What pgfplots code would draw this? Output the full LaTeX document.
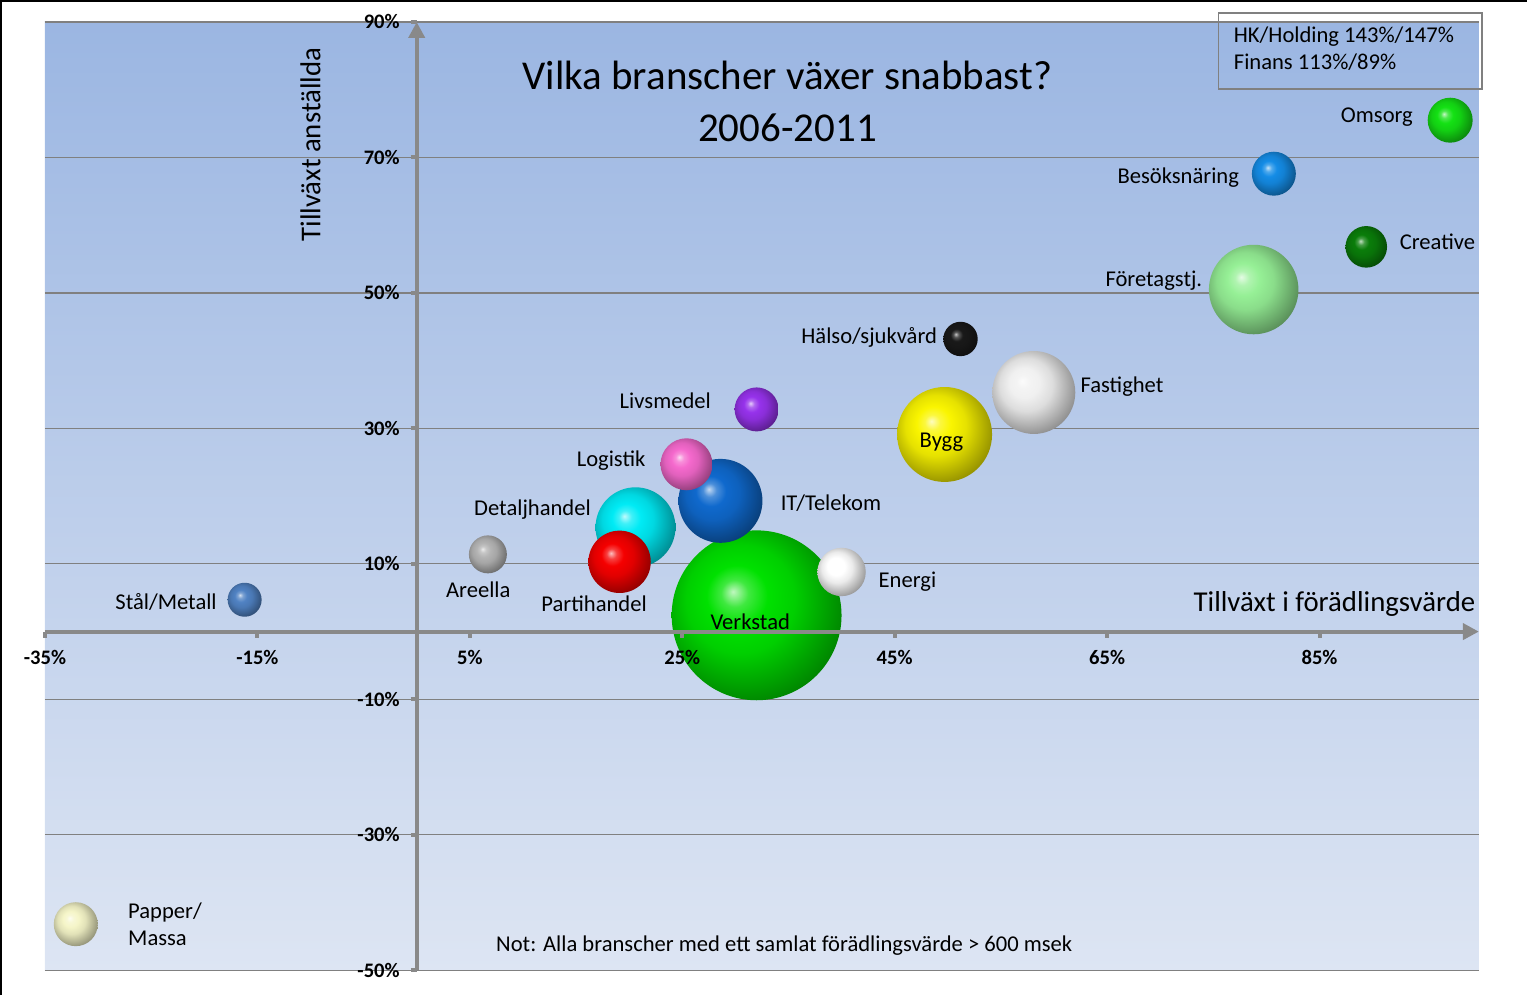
\documentclass[border=0pt]{standalone}
\usepackage{fontspec}
\setmainfont{Carlito}
\usepackage{pgfplots}
\pgfplotsset{compat=1.18}
\usetikzlibrary{arrows.meta}
\definecolor{bgtop}{RGB}{155,182,226}
\definecolor{bgbot}{RGB}{221,229,243}
\definecolor{axgray}{RGB}{137,137,137}
\definecolor{gridgray}{RGB}{128,128,128}
\definecolor{cOmsorg}{RGB}{20,225,20}
\definecolor{cBesok}{RGB}{20,140,230}
\definecolor{cCreative}{RGB}{10,125,10}
\definecolor{cForetag}{RGB}{150,240,150}
\definecolor{cHalso}{RGB}{25,25,25}
\definecolor{cFastighet}{RGB}{240,240,240}
\definecolor{cBygg}{RGB}{250,245,0}
\definecolor{cLivs}{RGB}{150,50,235}
\definecolor{cLogistik}{RGB}{245,105,205}
\definecolor{cIT}{RGB}{15,105,205}
\definecolor{cDetalj}{RGB}{0,235,245}
\definecolor{cAreella}{RGB}{180,180,180}
\definecolor{cParti}{RGB}{245,0,0}
\definecolor{cVerkstad}{RGB}{0,225,0}
\definecolor{cEnergi}{RGB}{255,255,255}
\definecolor{cStal}{RGB}{80,130,195}
\definecolor{cPapper}{RGB}{245,245,200}
\makeatletter
\pgfdeclareradialshading[tikz@ball]{myball}{\pgfqpoint{-7bp}{7bp}}{%
  color(0bp)=(tikz@ball!25!white);
  color(4bp)=(tikz@ball!75!white);
  color(9bp)=(tikz@ball);
  color(16bp)=(tikz@ball!92!black);
  color(24bp)=(tikz@ball!72!black);
  color(32bp)=(tikz@ball!52!black);
  color(50bp)=(tikz@ball!45!black)}
\makeatother
\pgfdeclareplotmark{myball}{\shade[shading=myball, draw=none] (0pt,0pt) circle (\pgfplotmarksize);}
\pgfplotsset{
  layers/mylayers/.define layer set={
    axis background, axis grid, pre main, main, axis ticks, axis lines,
    axis tick labels, axis descriptions, axis foreground
  }{/pgfplots/layers/standard},
}
\newcommand{\lbl}{\fontsize{11.3}{13.5}\selectfont}
\begin{document}
\begin{tikzpicture}
\begin{axis}[
  set layers=mylayers,
  scale only axis, width=717.5pt, height=474.5pt,
  at={(0pt,0pt)}, anchor=south west,
  xmin=-35, xmax=100, ymin=-50, ymax=90,
  axis lines=middle,
  axis line style={axgray, line width=2pt, -{Triangle[width=8pt,length=8pt]}},
  xtick={-35,-15,...,85}, ytick={-50,-30,...,90},
  tick style={axgray, line width=2pt},
  major tick length=3pt,
  tick align=outside,
  ymajorgrids, grid style={gridgray, line width=0.6pt},
  xticklabel={\pgfmathprintnumber[assume math mode=true]{\tick}\%},
  yticklabel={\pgfmathprintnumber[assume math mode=true]{\tick}\%},
  ticklabel style={font=\fontsize{10.3}{12}\selectfont\bfseries},
  xticklabel style={yshift=-3pt},
  yticklabel style={xshift=-2pt},
  axis background/.style={top color=bgtop, bottom color=bgbot, draw=none},
  clip=false,
  every axis plot/.append style={only marks, mark=myball},
]
% bubbles, largest first
\addplot[mark size=42.5pt, mark options={ball color=cVerkstad}] coordinates {(32.0,2.4)};
\addplot[mark size=23.75pt, mark options={ball color=cBygg}] coordinates {(49.7,29.1)};
\addplot[mark size=22.4pt, mark options={ball color=cForetag}] coordinates {(78.8,50.5)};
\addplot[mark size=21pt, mark options={ball color=cIT}] coordinates {(28.6,19.3)};
\addplot[mark size=20.75pt, mark options={ball color=cFastighet}] coordinates {(58.1,35.3)};
\addplot[mark size=20pt, mark options={ball color=cDetalj}] coordinates {(20.6,15.4)};
\addplot[mark size=15.6pt, mark options={ball color=cParti}] coordinates {(19.1,10.3)};
\addplot[mark size=13pt, mark options={ball color=cLogistik}] coordinates {(25.4,24.7)};
\addplot[mark size=12.1pt, mark options={ball color=cEnergi}] coordinates {(40.0,8.8)};
\addplot[mark size=11.25pt, mark options={ball color=cOmsorg}] coordinates {(97.3,75.5)};
\addplot[mark size=11pt, mark options={ball color=cBesok}] coordinates {(80.7,67.6)};
\addplot[mark size=11pt, mark options={ball color=cLivs}] coordinates {(32.0,32.8)};
\addplot[mark size=11pt, mark options={ball color=cPapper}] coordinates {(-32.1,-43.2)};
\addplot[mark size=10.4pt, mark options={ball color=cCreative}] coordinates {(89.4,56.8)};
\addplot[mark size=9.5pt, mark options={ball color=cAreella}] coordinates {(6.7,11.4)};
\addplot[mark size=8.6pt, mark options={ball color=cHalso}] coordinates {(51.2,43.2)};
\addplot[mark size=8.5pt, mark options={ball color=cStal}] coordinates {(-16.2,4.7)};
% labels
\begin{pgfonlayer}{axis foreground}
\begin{scope}[every node/.style={font=\lbl, inner sep=0pt}]
\node at (axis cs:90.4,76.0) {Omsorg};
\node at (axis cs:71.7,67.0) {Besöksnäring};
\node at (axis cs:96.1,57.5) {Creative};
\node at (axis cs:69.4,51.8) {Företagstj.};
\node at (axis cs:42.6,43.5) {Hälso/sjukvård};
\node at (axis cs:66.4,36.1) {Fastighet};
\node at (axis cs:49.4,28.0) {Bygg};
\node at (axis cs:23.4,34.1) {Livsmedel};
\node at (axis cs:18.3,25.2) {Logistik};
\node at (axis cs:39.0,19.0) {IT/Telekom};
\node at (axis cs:10.9,18.0) {Detaljhandel};
\node at (axis cs:5.8,6.2) {Areella};
\node at (axis cs:16.7,4.1) {Partihandel};
\node at (axis cs:31.4,1.5) {Verkstad};
\node at (axis cs:46.2,7.4) {Energi};
\node at (axis cs:-23.6,4.3) {Stål/Metall};
\node[anchor=west, align=left, font=\fontsize{11.3}{13.5}\selectfont] at (axis cs:-27.2,-43.2) {Papper/\\Massa};
\node at (axis cs:34.6,-46.4) {Not: Alla branscher med ett samlat förädlingsvärde > 600 msek};
\end{scope}
\node[font=\fontsize{20.5}{26}\selectfont, align=center, inner sep=0pt] at (axis cs:34.9,78.3) {Vilka branscher växer snabbast?\\2006-2011};
\node[font=\fontsize{14.4}{17}\selectfont, rotate=90, inner sep=0pt] at (axis cs:-10.0,71.9) {Tillväxt anställda};
\node[font=\fontsize{14.4}{17}\selectfont, anchor=east, inner sep=0pt] at (axis cs:99.7,4.1) {Tillväxt i förädlingsvärde};
\draw[gridgray, line width=0.8pt] (axis cs:75.5,91.3) rectangle (axis cs:100.3,80.1);
\node[font=\lbl, anchor=west, inner sep=0pt] at (axis cs:76.9,87.9) {HK/Holding 143\%/147\%};
\node[font=\lbl, anchor=west, inner sep=0pt] at (axis cs:76.9,84.0) {Finans 113\%/89\%};
\end{pgfonlayer}
\end{axis}
\pgfresetboundingbox
\path (-22.5pt,-12.5pt) rectangle (741.5pt,485.5pt);
\draw[black, line width=1.2pt] (-21.9pt,-12.5pt) -- (-21.9pt,484.9pt) -- (741.5pt,484.9pt);
\end{tikzpicture}
\end{document}
